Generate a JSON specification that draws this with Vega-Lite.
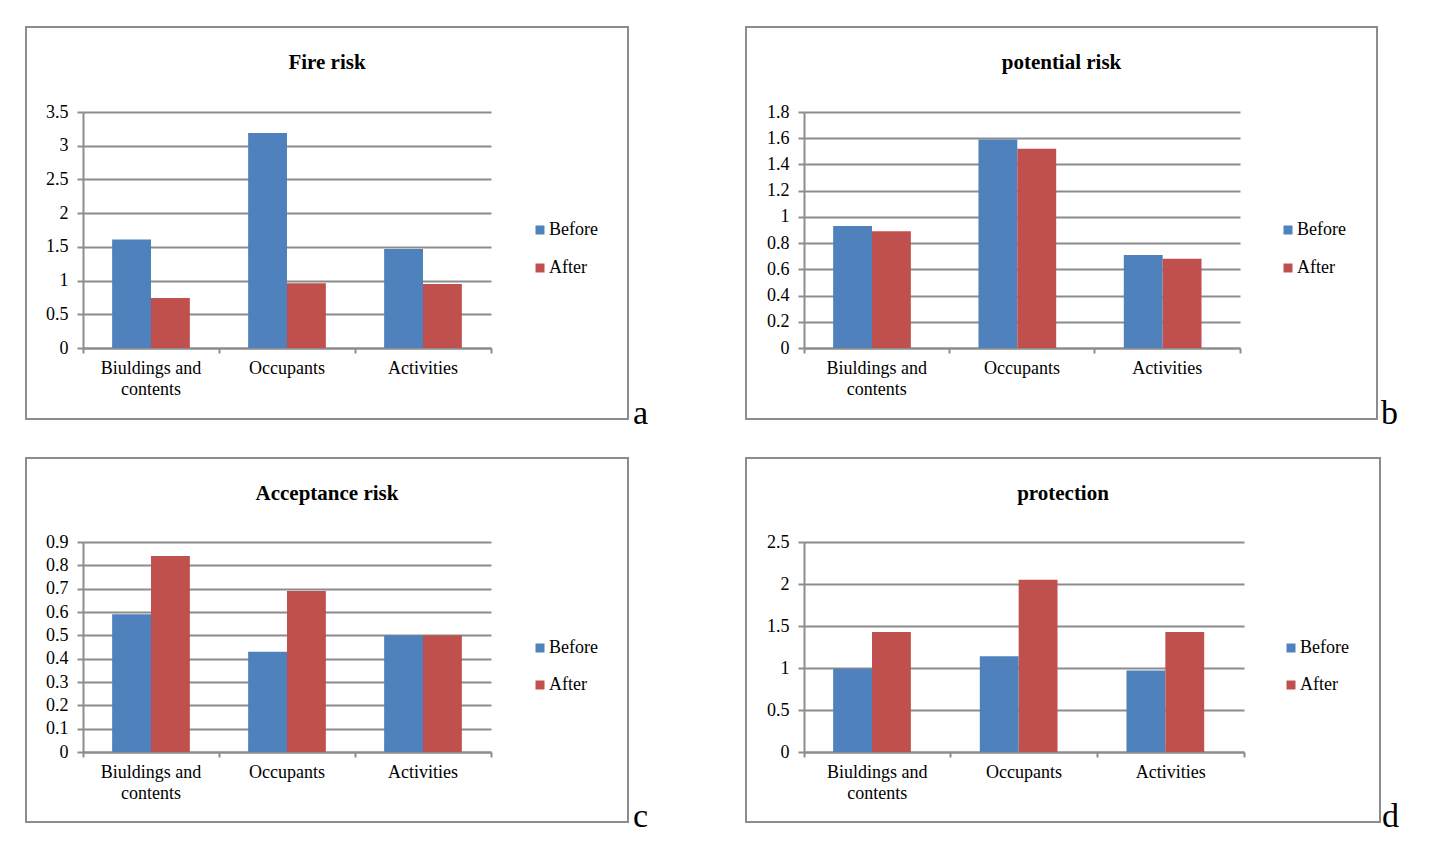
{
  "$schema": "https://vega.github.io/schema/vega-lite/v6.json",
  "background": "white",
  "padding": {"left": 25, "top": 26, "right": 0, "bottom": 0},
  "bounds": "flush",
  "columns": 2,
  "spacing": {"row": 39, "column": 118},
  "datasets": {
    "scores": [
      {"panel": "a", "category": "Biuldings and contents", "series": "Before", "value": 1.61},
      {"panel": "a", "category": "Biuldings and contents", "series": "After", "value": 0.74},
      {"panel": "a", "category": "Occupants", "series": "Before", "value": 3.19},
      {"panel": "a", "category": "Occupants", "series": "After", "value": 0.96},
      {"panel": "a", "category": "Activities", "series": "Before", "value": 1.47},
      {"panel": "a", "category": "Activities", "series": "After", "value": 0.95},
      {"panel": "b", "category": "Biuldings and contents", "series": "Before", "value": 0.93},
      {"panel": "b", "category": "Biuldings and contents", "series": "After", "value": 0.89},
      {"panel": "b", "category": "Occupants", "series": "Before", "value": 1.59},
      {"panel": "b", "category": "Occupants", "series": "After", "value": 1.52},
      {"panel": "b", "category": "Activities", "series": "Before", "value": 0.71},
      {"panel": "b", "category": "Activities", "series": "After", "value": 0.68},
      {"panel": "c", "category": "Biuldings and contents", "series": "Before", "value": 0.59},
      {"panel": "c", "category": "Biuldings and contents", "series": "After", "value": 0.84},
      {"panel": "c", "category": "Occupants", "series": "Before", "value": 0.43},
      {"panel": "c", "category": "Occupants", "series": "After", "value": 0.69},
      {"panel": "c", "category": "Activities", "series": "Before", "value": 0.50},
      {"panel": "c", "category": "Activities", "series": "After", "value": 0.50},
      {"panel": "d", "category": "Biuldings and contents", "series": "Before", "value": 0.99},
      {"panel": "d", "category": "Biuldings and contents", "series": "After", "value": 1.43},
      {"panel": "d", "category": "Occupants", "series": "Before", "value": 1.14},
      {"panel": "d", "category": "Occupants", "series": "After", "value": 2.05},
      {"panel": "d", "category": "Activities", "series": "Before", "value": 0.97},
      {"panel": "d", "category": "Activities", "series": "After", "value": 1.43}
    ]
  },
  "resolve": {"scale": {"color": "independent", "x": "independent", "y": "independent"}, "legend": {"color": "independent"}},
  "concat": [
    {
      "width": 602, "height": 392,
      "title": {"text": "Fire risk"},
      "data": {"name": "scores"},
      "layer": [
        {
          "transform": [{"filter": "datum.panel == 'a'"}],
          "mark": {"type": "bar"},
          "encoding": {
            "x": {"field": "category", "type": "nominal", "sort": null,
                  "scale": {"range": [57, 465], "paddingInner": 0, "paddingOuter": 0},
                  "axis": {"offset": -71}},
            "xOffset": {"field": "series", "type": "nominal", "sort": ["Before", "After"],
                        "scale": {"paddingInner": 0, "paddingOuter": 0.75}},
            "y": {"field": "value", "type": "quantitative",
                  "scale": {"domain": [0, 3.5], "nice": false, "zero": true, "range": [321, 85]},
                  "axis": {"offset": -57, "values": [0, 0.5, 1, 1.5, 2, 2.5, 3, 3.5]}},
            "color": {"field": "series", "type": "nominal", "sort": ["Before", "After"],
                      "scale": {"domain": ["Before", "After"], "range": ["#4F81BD", "#C0504D"]},
                      "legend": {"legendX": 505, "legendY": 194}}
          }
        },
        {
          "data": {"values": [{"tag": "a"}]},
          "mark": {"type": "text", "font": "Liberation Serif", "fontSize": 34, "align": "left", "baseline": "alphabetic", "dx": 5, "dy": 5, "color": "black"},
          "encoding": {"text": {"field": "tag"}, "x": {"value": "width"}, "y": {"value": "height"}}
        }
      ]
    },
    {
      "width": 631, "height": 392,
      "title": {"text": "potential risk"},
      "data": {"name": "scores"},
      "layer": [
        {
          "transform": [{"filter": "datum.panel == 'b'"}],
          "mark": {"type": "bar"},
          "encoding": {
            "x": {"field": "category", "type": "nominal", "sort": null,
                  "scale": {"range": [58, 494], "paddingInner": 0, "paddingOuter": 0},
                  "axis": {"offset": -71}},
            "xOffset": {"field": "series", "type": "nominal", "sort": ["Before", "After"],
                        "scale": {"paddingInner": 0, "paddingOuter": 0.75}},
            "y": {"field": "value", "type": "quantitative",
                  "scale": {"domain": [0, 1.8], "nice": false, "zero": true, "range": [321, 85]},
                  "axis": {"offset": -58, "values": [0, 0.2, 0.4, 0.6, 0.8, 1, 1.2, 1.4, 1.6, 1.8]}},
            "color": {"field": "series", "type": "nominal", "sort": ["Before", "After"],
                      "scale": {"domain": ["Before", "After"], "range": ["#4F81BD", "#C0504D"]},
                      "legend": {"legendX": 533, "legendY": 194}}
          }
        },
        {
          "data": {"values": [{"tag": "b"}]},
          "mark": {"type": "text", "font": "Liberation Serif", "fontSize": 34, "align": "left", "baseline": "alphabetic", "dx": 4, "dy": 5, "color": "black"},
          "encoding": {"text": {"field": "tag"}, "x": {"value": "width"}, "y": {"value": "height"}}
        }
      ]
    },
    {
      "width": 602, "height": 364,
      "title": {"text": "Acceptance risk"},
      "data": {"name": "scores"},
      "layer": [
        {
          "transform": [{"filter": "datum.panel == 'c'"}],
          "mark": {"type": "bar"},
          "encoding": {
            "x": {"field": "category", "type": "nominal", "sort": null,
                  "scale": {"range": [57, 465], "paddingInner": 0, "paddingOuter": 0},
                  "axis": {"offset": -70}},
            "xOffset": {"field": "series", "type": "nominal", "sort": ["Before", "After"],
                        "scale": {"paddingInner": 0, "paddingOuter": 0.75}},
            "y": {"field": "value", "type": "quantitative",
                  "scale": {"domain": [0, 0.9], "nice": false, "zero": true, "range": [294, 84]},
                  "axis": {"offset": -57, "values": [0, 0.1, 0.2, 0.3, 0.4, 0.5, 0.6, 0.7, 0.8, 0.9]}},
            "color": {"field": "series", "type": "nominal", "sort": ["Before", "After"],
                      "scale": {"domain": ["Before", "After"], "range": ["#4F81BD", "#C0504D"]},
                      "legend": {"legendX": 505, "legendY": 181, "rowPadding": 19}}
          }
        },
        {
          "data": {"values": [{"tag": "c"}]},
          "mark": {"type": "text", "font": "Liberation Serif", "fontSize": 34, "align": "left", "baseline": "alphabetic", "dx": 5, "dy": 5, "color": "black"},
          "encoding": {"text": {"field": "tag"}, "x": {"value": "width"}, "y": {"value": "height"}}
        }
      ]
    },
    {
      "width": 634, "height": 364,
      "title": {"text": "protection"},
      "data": {"name": "scores"},
      "layer": [
        {
          "transform": [{"filter": "datum.panel == 'd'"}],
          "mark": {"type": "bar"},
          "encoding": {
            "x": {"field": "category", "type": "nominal", "sort": null,
                  "scale": {"range": [58, 498], "paddingInner": 0, "paddingOuter": 0},
                  "axis": {"offset": -70}},
            "xOffset": {"field": "series", "type": "nominal", "sort": ["Before", "After"],
                        "scale": {"paddingInner": 0, "paddingOuter": 0.75}},
            "y": {"field": "value", "type": "quantitative",
                  "scale": {"domain": [0, 2.5], "nice": false, "zero": true, "range": [294, 84]},
                  "axis": {"offset": -58, "values": [0, 0.5, 1, 1.5, 2, 2.5]}},
            "color": {"field": "series", "type": "nominal", "sort": ["Before", "After"],
                      "scale": {"domain": ["Before", "After"], "range": ["#4F81BD", "#C0504D"]},
                      "legend": {"legendX": 536, "legendY": 181, "rowPadding": 19}}
          }
        },
        {
          "data": {"values": [{"tag": "d"}]},
          "mark": {"type": "text", "font": "Liberation Serif", "fontSize": 34, "align": "left", "baseline": "alphabetic", "dx": 2, "dy": 5, "color": "black"},
          "encoding": {"text": {"field": "tag"}, "x": {"value": "width"}, "y": {"value": "height"}}
        }
      ]
    }
  ],
  "config": {
    "font": "Liberation Serif",
    "view": {"stroke": "#8c8c8c", "strokeWidth": 2},
    "title": {"font": "Liberation Serif", "fontSize": 21, "fontWeight": "bold", "color": "black", "anchor": "middle", "frame": "group", "offset": -46},
    "axisX": {
      "title": null, "labelAngle": 0, "grid": false,
      "bandPosition": 1, "tickExtra": true,
      "labelExpr": "datum.value == 'Biuldings and contents' ? ['Biuldings and', 'contents'] : datum.value",
      "labelLineHeight": 21, "labelPadding": 6,
      "domainColor": "#8c8c8c", "domainWidth": 2,
      "tickColor": "#8c8c8c", "tickWidth": 2, "tickSize": 5
    },
    "axisY": {
      "title": null, "grid": true, "format": "~g",
      "gridColor": "#8c8c8c", "gridWidth": 2,
      "domainColor": "#8c8c8c", "domainWidth": 2,
      "tickColor": "#8c8c8c", "tickWidth": 2, "tickSize": 6, "labelPadding": 9
    },
    "axis": {"labelFont": "Liberation Serif", "labelFontSize": 18, "labelColor": "black"},
    "legend": {
      "orient": "none", "title": null, "direction": "vertical",
      "labelFont": "Liberation Serif", "labelFontSize": 18, "labelColor": "black",
      "symbolType": "square", "symbolSize": 81, "symbolStrokeWidth": 0, "symbolOpacity": 1,
      "labelOffset": 0, "rowPadding": 20, "padding": 0
    }
  }
}
